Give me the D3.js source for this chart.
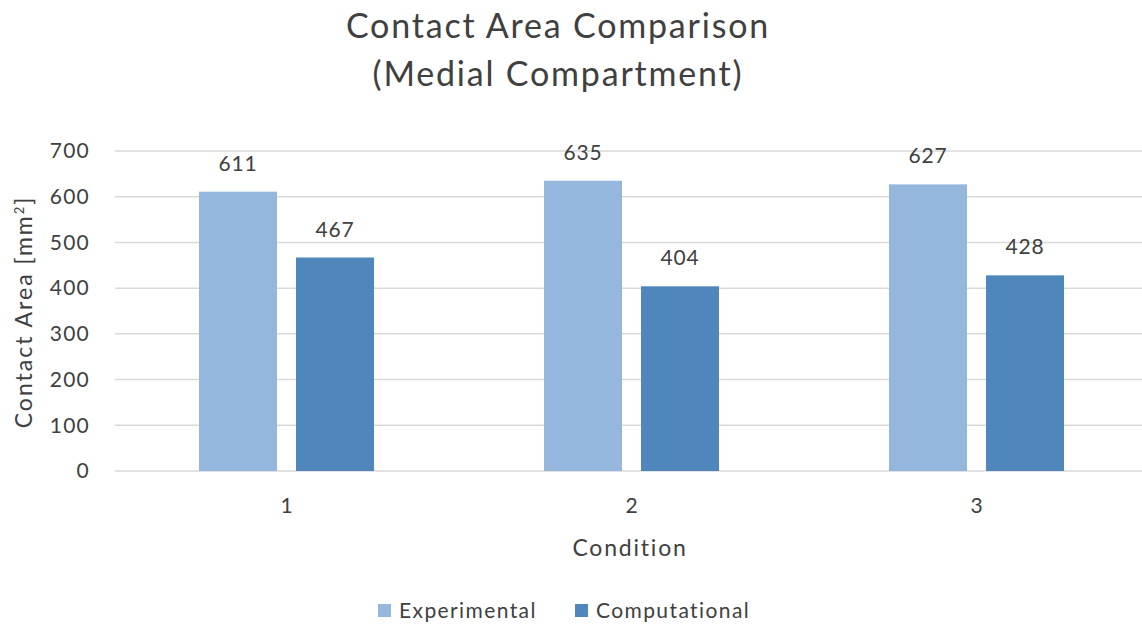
<!DOCTYPE html>
<html>
<head>
<meta charset="utf-8">
<script src="https://cdn.jsdelivr.net/npm/d3@7"></script>
<style>
  html, body { margin: 0; padding: 0; background: #fff; }
  svg { display: block; font-family: Lato, "Open Sans", sans-serif; }
</style>
</head>
<body>
<svg id="chart" width="1142" height="628"></svg>
<script>
// Contact area per loading condition, medial compartment
const conditions = ["1", "2", "3"];
const seriesNames = ["Experimental", "Computational"];
const experimental = [611, 635, 627];
const computational = [467, 404, 428];
const yTicks = [0, 100, 200, 300, 400, 500, 600, 700];

const colors = { Experimental: "#95b7de", Computational: "#4f87bd" };
const textColor = "#404040";

const svg = d3.select("#chart");
const W = 1142, H = 628;
const plot = { left: 114, right: 1149, top: 151, bottom: 471 };
const groupWidth = 175;

const rows = conditions.map((c, i) => ({
  condition: c,
  Experimental: experimental[i],
  Computational: computational[i]
}));

const x0 = d3.scaleBand().domain(conditions).range([plot.left, plot.right]).paddingInner(0).paddingOuter(0);
const x1 = d3.scaleBand().domain(seriesNames).range([0, groupWidth]).paddingInner(0.196).paddingOuter(0);
const y = d3.scaleLinear().domain([0, 700]).range([plot.bottom, plot.top]);

// Horizontal gridlines
svg.append("g")
  .selectAll("line")
  .data(yTicks)
  .join("line")
  .attr("x1", plot.left + 1)
  .attr("x2", W)
  .attr("y1", d => y(d))
  .attr("y2", d => y(d))
  .attr("stroke", "#d9d9d9")
  .attr("stroke-width", 1.5);

// Y axis tick labels
const yAxis = d3.axisLeft(y).tickValues(yTicks).tickSize(0).tickPadding(0);
const yG = svg.append("g").attr("transform", `translate(${plot.left - 24},0)`).call(yAxis);
yG.select(".domain").remove();
yG.selectAll("text")
  .attr("fill", textColor)
  .style("font-size", "21px")
  .style("letter-spacing", "1.2px")
  .style("font-family", "Lato, sans-serif");

// X axis labels
const xAxis = d3.axisBottom(x0).tickSize(0).tickPadding(0);
const xG = svg.append("g").attr("transform", `translate(0,${plot.bottom + 27})`).call(xAxis);
xG.select(".domain").remove();
xG.selectAll("text")
  .attr("fill", textColor)
  .style("font-size", "21px")
  .style("font-family", "Lato, sans-serif");

// Bars
const groups = svg.append("g")
  .selectAll("g")
  .data(rows)
  .join("g")
  .attr("transform", d => `translate(${x0(d.condition) + (x0.bandwidth() - groupWidth) / 2},0)`);

groups.selectAll("rect")
  .data(d => seriesNames.map(s => ({ key: s, value: d[s] })))
  .join("rect")
  .attr("x", d => x1(d.key))
  .attr("y", d => y(d.value))
  .attr("width", x1.bandwidth())
  .attr("height", d => y(0) - y(d.value))
  .attr("fill", d => colors[d.key]);

// Value labels
groups.selectAll("text.val")
  .data(d => seriesNames.map(s => ({ key: s, value: d[s] })))
  .join("text")
  .attr("class", "val")
  .attr("x", d => x1(d.key) + x1.bandwidth() / 2)
  .attr("y", d => y(d.value) - 21)
  .attr("text-anchor", "middle")
  .attr("fill", textColor)
  .style("font-size", "21px")
  .style("letter-spacing", "0.8px")
  .text(d => d.value);

// Title
const title = svg.append("text")
  .attr("text-anchor", "middle")
  .attr("fill", textColor)
  .style("font-size", "34px")
  .style("letter-spacing", "1.8px");
title.append("tspan").attr("x", 558).attr("y", 38).text("Contact Area Comparison");
title.append("tspan").attr("x", 558).attr("y", 86).text("(Medial Compartment)");

// Axis titles
const yTitle = svg.append("text")
  .attr("transform", "translate(32,312) rotate(-90)")
  .attr("text-anchor", "middle")
  .attr("fill", textColor)
  .style("font-size", "23px")
  .style("letter-spacing", "2px");
yTitle.append("tspan").text("Contact Area [mm");
yTitle.append("tspan").attr("baseline-shift", "super").style("font-size", "13px").text("2");
yTitle.append("tspan").text("]");

svg.append("text")
  .attr("x", 630)
  .attr("y", 556)
  .attr("text-anchor", "middle")
  .attr("fill", textColor)
  .style("font-size", "23px")
  .style("letter-spacing", "1.8px")
  .text("Condition");

// Legend
const legendItems = [
  { key: "Experimental", x: 378 },
  { key: "Computational", x: 575 }
];
const legend = svg.append("g")
  .selectAll("g")
  .data(legendItems)
  .join("g")
  .attr("transform", d => `translate(${d.x},604)`);
legend.append("rect")
  .attr("width", 13)
  .attr("height", 13)
  .attr("fill", d => colors[d.key]);
legend.append("text")
  .attr("x", 21)
  .attr("y", 14)
  .attr("fill", textColor)
  .style("font-size", "21px")
  .style("letter-spacing", "1.4px")
  .text(d => d.key);
</script>
</body>
</html>
